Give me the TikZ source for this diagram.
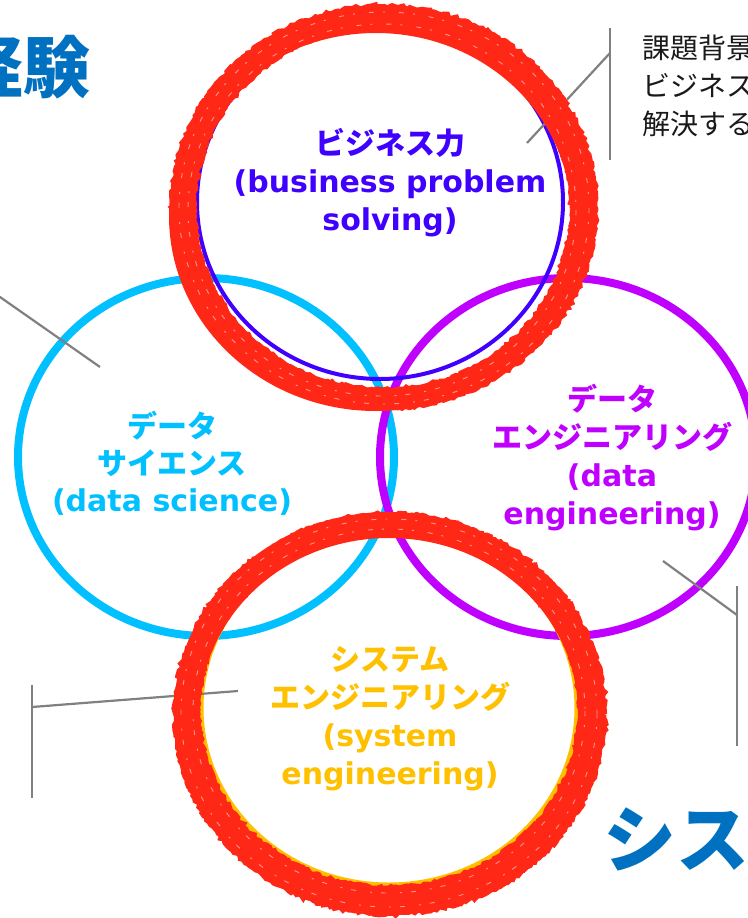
\documentclass[tikz,border=0pt]{standalone}
\usepackage{fontspec}
\setmainfont{DejaVu Sans}
\newfontfamily\cjk{Noto Sans CJK JP}
\usetikzlibrary{decorations.pathmorphing}
\definecolor{bizc}{RGB}{64,0,255}
\definecolor{dsc}{RGB}{0,192,255}
\definecolor{dec}{RGB}{192,0,255}
\definecolor{sec}{RGB}{255,192,0}
\definecolor{redc}{RGB}{255,40,22}
\definecolor{bigc}{RGB}{0,112,192}
\definecolor{callc}{RGB}{128,128,128}
\tikzset{
  ring/.style={line width=8},
  callout/.style={draw=callc, line width=2.2},
  label/.style={align=center, inner sep=0, font=\fontsize{30}{38}\selectfont\bfseries},
  rough/.style={decorate, decoration={random steps, segment length=3, amplitude=1.6}},
  speck/.style={white, line width=0.9, opacity=0.5, dash pattern=on 5pt off 9pt on 2pt off 14pt}
}
\begin{document}
\begin{tikzpicture}[x=1pt,y=-1pt]
\useasboundingbox (0,0) rectangle (747,918);
\pgfmathsetseed{7}
% plain circles
\draw[dsc, ring] (206,457) ellipse [x radius=188, y radius=179];
\draw[dec, ring] (568,457) ellipse [x radius=188, y radius=179];
\draw[bizc, line width=4] (380,202) ellipse [x radius=183, y radius=177];
\draw[sec, line width=5] (389,708) ellipse [x radius=188, y radius=177];
% callout lines
\coordinate (c1a) at (610,28);  \coordinate (c1b) at (610,160);
\coordinate (c1m) at (610,53);  \coordinate (c1e) at (527,143);
\coordinate (c2s) at (-10,290); \coordinate (c2e) at (100,367);
\coordinate (c3a) at (32,685);  \coordinate (c3b) at (32,798);
\coordinate (c3m) at (32,707);  \coordinate (c3e) at (238,691);
\coordinate (c4s) at (663,561); \coordinate (c4m) at (737,615);
\coordinate (c4a) at (737,586); \coordinate (c4b) at (737,746);
\draw[callout] (c1a) -- (c1b);
\draw[callout] (c1m) -- (c1e);
\draw[callout] (c2s) -- (c2e);
\draw[callout] (c3a) -- (c3b);
\draw[callout] (c3m) -- (c3e);
\draw[callout] (c4s) -- (c4m);
\draw[callout] (c4a) -- (c4b);
% red sketch ring, top
\draw[redc, line width=22] (384,208) ellipse [x radius=200, y radius=191];
\draw[redc, line width=12] (376,216) ellipse [x radius=201, y radius=189];
\draw[redc, line width=8] (390,210) ellipse [x radius=203, y radius=190];
\draw[redc, line width=6, rough] (384,207) ellipse [x radius=211, y radius=200];
\draw[redc, line width=5, rough] (383,208) ellipse [x radius=189, y radius=182];
\draw[speck] (384,208) ellipse [x radius=205, y radius=196];
\draw[speck] (382,210) ellipse [x radius=194, y radius=186];
% red sketch ring, bottom
\draw[redc, line width=26] (389,713) ellipse [x radius=202, y radius=188];
\draw[redc, line width=14] (389,719) ellipse [x radius=205, y radius=189];
\draw[redc, line width=6, rough] (390,714) ellipse [x radius=214, y radius=199];
\draw[redc, line width=5, rough] (389,710) ellipse [x radius=191, y radius=178];
\draw[speck] (389,713) ellipse [x radius=208, y radius=194];
\draw[speck] (389,711) ellipse [x radius=196, y radius=182];
% labels
\node[label, text=bizc] (biz) at (390,183) {{\cjk\bfseries ビジネス力}\\(business problem\\solving)};
\node[label, text=dsc, font=\fontsize{30}{37}\selectfont\bfseries] (ds) at (172,463) {{\cjk\bfseries データ}\\{\cjk\bfseries サイエンス}\\(data science)};
\node[label, text=dec] (de) at (612,458) {{\cjk\bfseries データ}\\{\cjk\bfseries エンジニアリング}\\(data\\engineering)};
\node[label, text=sec] (se) at (390,719) {{\cjk\bfseries システム}\\{\cjk\bfseries エンジニアリング}\\(system\\engineering)};
% big headings (cut by page edge, as in the reference)
\node[anchor=east, inner sep=0, text=bigc, font=\fontsize{67}{70}\selectfont\cjk\bfseries] (exp) at (91,67) {経験};
\node[anchor=west, inner sep=0, text=bigc, font=\fontsize{73}{76}\selectfont\cjk\bfseries] (sys) at (603,839) {シス};
% note text (cut by page edge, as in the reference)
\node[anchor=west, align=left, inner sep=0, text=black!90, font=\fontsize{28}{38}\selectfont\cjk] (note) at (642,86) {課題背景\\ビジネス\\解決する};
\end{tikzpicture}
\end{document}
